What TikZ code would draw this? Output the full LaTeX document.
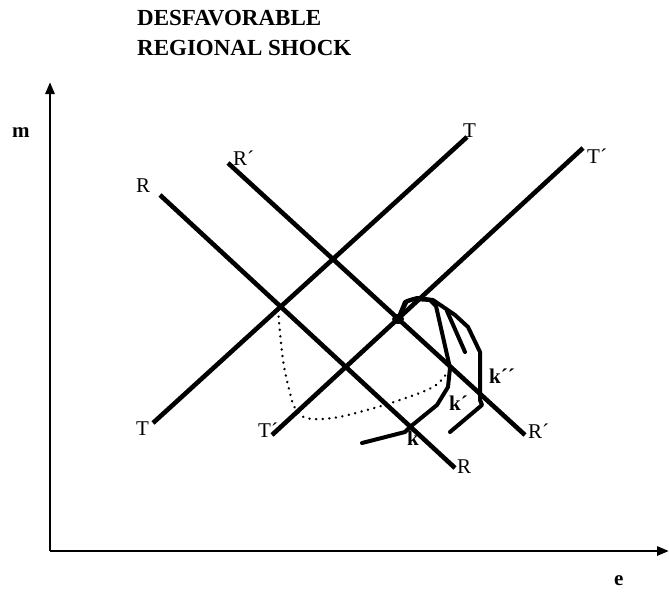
\documentclass[tikz,border=0pt]{standalone}
\usepackage{fontspec}
\setmainfont{Liberation Serif}
\usetikzlibrary{arrows.meta}
\tikzset{
  axis/.style={line width=2.8pt,-{Triangle[length=12pt,width=9pt]}},
  schedule/.style={line width=4.6pt},
  adjust/.style={line width=4pt,line join=round,line cap=round},
  path/.style={line width=2.6pt,line cap=round,dash pattern=on 0.1pt off 6.5pt},
  lbl/.style={inner sep=0pt,anchor=base west,font=\fontsize{21}{25}\selectfont},
  klbl/.style={lbl,font=\fontsize{21}{25}\selectfont\bfseries},
  title/.style={inner sep=0pt,anchor=base west,font=\fontsize{23}{27}\selectfont\bfseries}
}
\begin{document}
\begin{tikzpicture}[x=1pt,y=-1pt]
\useasboundingbox (0,0) rectangle (669,592);
% title
\node[title] (t1) at (137,25) {DESFAVORABLE};
\node[title] (t2) at (137,55) {REGIONAL SHOCK};
% axes
\coordinate (O) at (50,551);
\coordinate (ytop) at (50,82);
\coordinate (xend) at (669,551);
\draw[axis] (O) -- (ytop);
\draw[axis] (O) -- (xend);
\node[klbl] (m) at (12,137) {m};
\node[klbl] (e) at (614,585) {e};
% schedules
\coordinate (T1a) at (153,423); \coordinate (T1b) at (467,137);
\coordinate (T2a) at (272,435); \coordinate (T2b) at (583,148);
\coordinate (R1a) at (160,195); \coordinate (R1b) at (455,468);
\coordinate (R2a) at (228,163); \coordinate (R2b) at (525,435);
\draw[schedule] (T1a) -- (T1b);
\draw[schedule] (T2a) -- (T2b);
\draw[schedule] (R1a) -- (R1b);
\draw[schedule] (R2a) -- (R2b);
% labels
\node[lbl] (lT1a) at (136,435) {T};
\node[lbl] (lT1b) at (463,137) {T};
\node[lbl] (lT2a) at (258,437) {T´};
\node[lbl] (lT2b) at (587,163) {T´};
\node[lbl] (lR1a) at (136,192) {R};
\node[lbl] (lR1b) at (457,473) {R};
\node[lbl] (lR2a) at (233,165) {R´};
\node[lbl] (lR2b) at (528,438) {R´};
\node[klbl] (lk) at (407,445) {k};
\node[klbl] (lk1) at (449,410) {k´};
\node[klbl] (lk2) at (489,383) {k´´};
% dotted adjustment path
\coordinate (E0) at (278,310);
\coordinate (E1) at (398,319);
\draw[path] plot[smooth,tension=0.6] coordinates {(E0) (283,360) (290,393) (295,408) (306,418) (333,418) (367,410) (400,400) (433,387) (447,373)};
% adjustment curves
\draw[adjust] (E1) -- (405,302) -- (414,299) -- (430,300) -- (436,306) -- (450,368) -- (448,387) -- (437,405) -- (410,427) -- (405,432) -- (362,443);
\draw[adjust] (E1) -- (407,301) -- (417,298) -- (433,300) -- (455,315) -- (468,327) -- (480,352) -- (480,400) -- (482,405) -- (450,432);
\draw[adjust] (447,311) -- (465,352);
\fill (E1) ellipse (6pt and 5pt);
\end{tikzpicture}
\end{document}
